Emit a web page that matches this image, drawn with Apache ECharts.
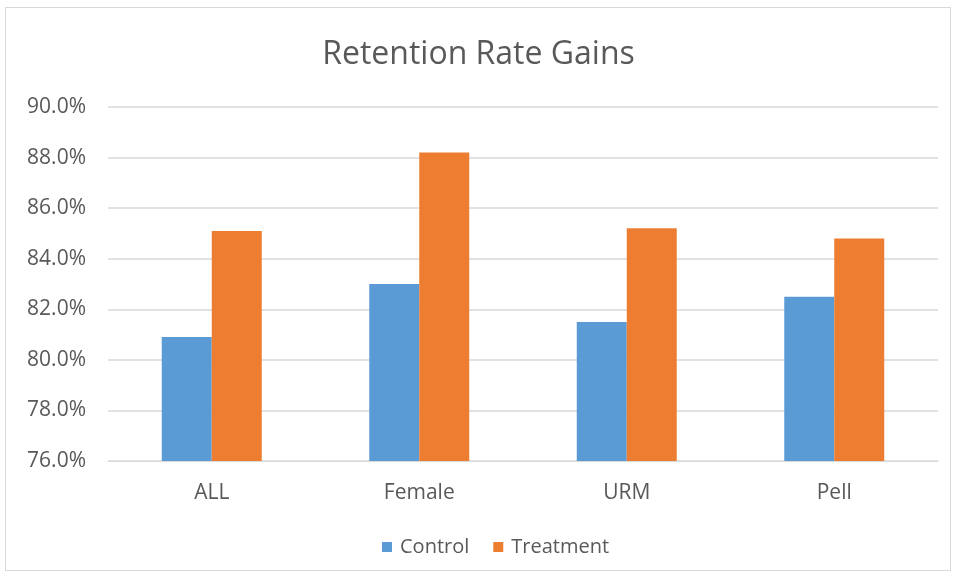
<!DOCTYPE html>
<html>
<head>
<meta charset="utf-8">
<script src="https://cdn.jsdelivr.net/npm/echarts@6/dist/echarts.min.js"></script>
<style>
    html, body { margin: 0; padding: 0; background: #fff; }
    #frame { position: absolute; left: 5px; top: 7px; width: 946px; height: 564px; border: 1px solid #d9d9d9; box-sizing: border-box; }
    #chart { position: absolute; left: 0; top: 0; width: 957px; height: 579px; }
</style>
</head>
<body>
<div id="frame"></div>
<div id="chart"></div>
<script type="text/javascript">
    var categories = ['ALL', 'Female', 'URM', 'Pell'];
    var control = [80.9, 83.0, 81.5, 82.5];
    var treatment = [85.1, 88.2, 85.2, 84.8];

    var font = '"Open Sans", "Noto Sans", sans-serif';
    var chart = echarts.init(document.getElementById('chart'));
    var option = {
        animation: false,
        title: {
            text: 'Retention Rate Gains',
            left: 'center',
            top: 34,
            textStyle: { fontFamily: font, fontSize: 32, fontWeight: 'normal', color: '#595959' }
        },
        legend: {
            data: ['Control', 'Treatment'],
            bottom: 17,
            left: 377,
            itemWidth: 10,
            itemHeight: 10,
            itemGap: 24,
            icon: 'rect',
            textStyle: { fontFamily: font, fontSize: 20, color: '#595959', padding: [0, 0, 0, 3] }
        },
        grid: { left: 108, right: 19, top: 107, bottom: 118 },
        xAxis: {
            type: 'category',
            data: categories,
            axisLine: { lineStyle: { color: '#d9d9d9' } },
            axisTick: { show: false },
            axisLabel: { fontFamily: font, fontSize: 21, color: '#595959', margin: 22 }
        },
        yAxis: {
            type: 'value',
            min: 76,
            max: 90,
            interval: 2,
            axisLine: { show: false },
            axisTick: { show: false },
            splitLine: { lineStyle: { color: '#d9d9d9', width: 1.5 } },
            axisLabel: {
                fontFamily: font, fontSize: 21, color: '#595959', margin: 22,
                formatter: function (v) { return v.toFixed(1) + '%'; }
            }
        },
        series: [
            { name: 'Control', type: 'bar', data: control, barWidth: 50, barGap: '0%', itemStyle: { color: '#5b9bd5' } },
            { name: 'Treatment', type: 'bar', data: treatment, barWidth: 50, barGap: '0%', itemStyle: { color: '#ed7d31' } }
        ]
    };
    chart.setOption(option);
</script>
</body>
</html>
